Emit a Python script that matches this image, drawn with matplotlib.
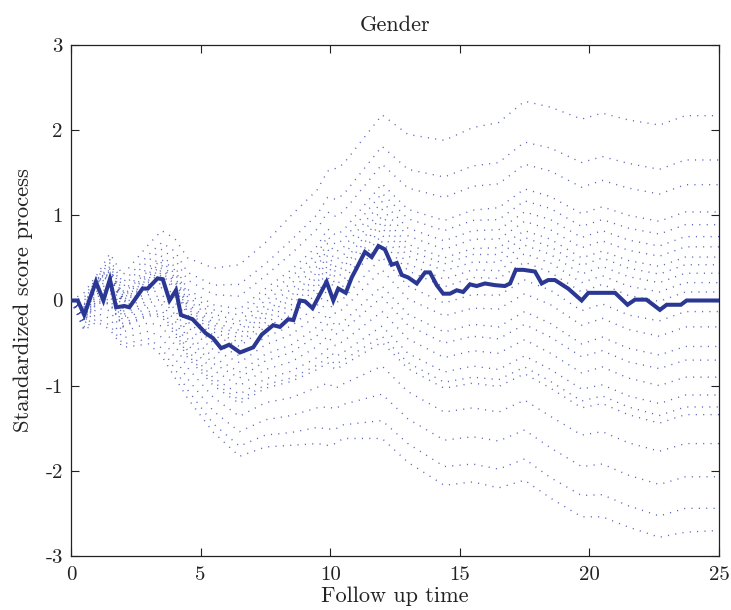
import matplotlib
matplotlib.use("Agg")
import matplotlib.pyplot as plt

# ---- main observed score process ----
main_t = [0, 0.26, 0.51, 0.96, 1.25, 1.5, 1.74, 2.06, 2.25, 2.76, 2.96, 3.34, 3.54, 3.8, 4.05,
          4.24, 4.69, 5.2, 5.47, 5.79, 6.1, 6.52, 7.03, 7.36, 7.8, 8.06, 8.38, 8.58, 8.83,
          9.03, 9.32, 9.86, 10.12, 10.31, 10.6, 10.83, 11.02, 11.34, 11.6, 11.86, 12.11,
          12.37, 12.57, 12.76, 13.01, 13.34, 13.66, 13.85, 14.11, 14.36, 14.62, 14.88,
          15.13, 15.39, 15.65, 15.97, 16.36, 16.74, 16.94, 17.16, 17.45, 17.9, 18.16,
          18.41, 18.67, 19.18, 19.7, 19.96, 20.99, 21.47, 21.76, 22.2, 22.72, 22.98,
          23.53, 23.75, 25.0]
main_v = [0, 0, -0.17, 0.22, 0.0, 0.25, -0.08, -0.065, -0.08, 0.14, 0.14, 0.26, 0.25, 0.0, 0.12,
          -0.17, -0.22, -0.385, -0.44, -0.56, -0.52, -0.61, -0.55, -0.40, -0.29, -0.31, -0.22,
          -0.23, 0.0, -0.01, -0.09, 0.22, 0.0, 0.14, 0.09, 0.27, 0.38, 0.57, 0.51, 0.64, 0.60,
          0.42, 0.44, 0.30, 0.27, 0.20, 0.33, 0.33, 0.18, 0.08, 0.08, 0.12, 0.10, 0.19, 0.17,
          0.20, 0.18, 0.17, 0.20, 0.36, 0.36, 0.34, 0.20, 0.24, 0.24, 0.14, 0.0, 0.09, 0.09,
          -0.05, 0.01, 0.01, -0.11, -0.05, -0.05, 0.0, 0.0]

# ---- simulated processes (dotted) ----
sim_t = [0, 0.5, 1, 1.5, 2, 3, 3.5, 4, 4.5, 5.5, 6.5, 7.5, 8.5, 9.5, 9.9, 10.2, 10.5, 12,
         13, 14.4, 15.5, 16.5, 17.5, 18.5, 19.7, 20.5, 21.5, 22.7, 23.7, 25]
sim_paths = [
    [0, 0.09, 0.30, 0.55, 0.30, 0.66, 0.82, 0.73, 0.50, 0.38, 0.42, 0.68, 1.00, 1.30, 1.52, 1.55, 1.60, 2.18, 1.95, 1.88, 2.03, 2.09, 2.34, 2.27, 2.13, 2.20, 2.12, 2.06, 2.17, 2.17],
    [0, 0.03, 0.28, 0.48, 0.21, 0.54, 0.68, 0.58, 0.33, 0.18, 0.19, 0.43, 0.71, 1.01, 1.21, 1.19, 1.24, 1.81, 1.54, 1.45, 1.58, 1.62, 1.86, 1.79, 1.62, 1.69, 1.61, 1.54, 1.65, 1.65],
    [0, -0.01, 0.27, 0.44, 0.16, 0.47, 0.60, 0.49, 0.24, 0.07, 0.05, 0.29, 0.55, 0.84, 1.04, 0.99, 1.04, 1.60, 1.32, 1.21, 1.34, 1.37, 1.60, 1.52, 1.33, 1.41, 1.32, 1.25, 1.36, 1.36],
    [0, -0.05, 0.25, 0.40, 0.11, 0.39, 0.52, 0.40, 0.13, -0.05, -0.10, 0.14, 0.36, 0.64, 0.84, 0.77, 0.82, 1.37, 1.07, 0.94, 1.06, 1.09, 1.31, 1.22, 1.02, 1.10, 1.00, 0.93, 1.04, 1.04],
    [0, -0.06, 0.24, 0.37, 0.08, 0.35, 0.48, 0.36, 0.08, -0.11, -0.17, 0.07, 0.28, 0.55, 0.75, 0.66, 0.71, 1.26, 0.96, 0.82, 0.94, 0.95, 1.17, 1.08, 0.87, 0.95, 0.85, 0.78, 0.89, 0.89],
    [0, -0.08, 0.24, 0.36, 0.06, 0.32, 0.45, 0.32, 0.04, -0.16, -0.24, 0.00, 0.20, 0.47, 0.67, 0.57, 0.62, 1.16, 0.85, 0.70, 0.82, 0.83, 1.04, 0.95, 0.74, 0.82, 0.71, 0.64, 0.75, 0.75],
    [0, -0.09, 0.23, 0.34, 0.04, 0.29, 0.41, 0.28, 0.00, -0.21, -0.29, -0.06, 0.13, 0.40, 0.60, 0.48, 0.53, 1.07, 0.76, 0.60, 0.72, 0.72, 0.93, 0.83, 0.62, 0.70, 0.59, 0.52, 0.63, 0.63],
    [0, -0.11, 0.23, 0.32, 0.02, 0.26, 0.38, 0.25, -0.04, -0.26, -0.35, -0.12, 0.06, 0.33, 0.53, 0.40, 0.45, 0.99, 0.66, 0.50, 0.61, 0.62, 0.82, 0.72, 0.50, 0.58, 0.47, 0.40, 0.51, 0.51],
    [0, -0.12, 0.22, 0.31, 0.00, 0.24, 0.36, 0.22, -0.07, -0.29, -0.39, -0.16, 0.01, 0.27, 0.47, 0.34, 0.39, 0.92, 0.59, 0.43, 0.54, 0.54, 0.74, 0.63, 0.41, 0.50, 0.38, 0.31, 0.42, 0.42],
    [0, -0.13, 0.22, 0.29, -0.02, 0.22, 0.33, 0.19, -0.10, -0.33, -0.44, -0.21, -0.05, 0.21, 0.41, 0.27, 0.32, 0.85, 0.52, 0.35, 0.45, 0.45, 0.65, 0.54, 0.31, 0.40, 0.28, 0.21, 0.32, 0.32],
    [0, -0.14, 0.21, 0.28, -0.03, 0.19, 0.30, 0.16, -0.13, -0.37, -0.49, -0.26, -0.11, 0.15, 0.35, 0.19, 0.24, 0.77, 0.43, 0.25, 0.36, 0.35, 0.55, 0.44, 0.21, 0.29, 0.17, 0.10, 0.21, 0.21],
    [0, -0.16, 0.21, 0.26, -0.05, 0.16, 0.28, 0.13, -0.17, -0.41, -0.54, -0.31, -0.17, 0.08, 0.28, 0.12, 0.17, 0.69, 0.35, 0.16, 0.27, 0.26, 0.45, 0.33, 0.10, 0.19, 0.06, -0.01, 0.10, 0.10],
    [0, -0.18, 0.18, 0.22, -0.09, 0.11, 0.21, 0.05, -0.25, -0.50, -0.65, -0.43, -0.30, -0.06, 0.13, -0.03, 0.02, 0.51, 0.17, -0.03, 0.07, 0.06, 0.24, 0.12, -0.12, -0.04, -0.17, -0.24, -0.13, -0.13],
    [0, -0.19, 0.15, 0.18, -0.13, 0.07, 0.15, -0.01, -0.31, -0.58, -0.73, -0.52, -0.40, -0.17, 0.00, -0.15, -0.10, 0.36, 0.02, -0.18, -0.09, -0.10, 0.08, -0.05, -0.29, -0.21, -0.34, -0.42, -0.31, -0.31],
    [0, -0.21, 0.11, 0.13, -0.17, 0.01, 0.07, -0.10, -0.39, -0.67, -0.84, -0.63, -0.52, -0.31, -0.16, -0.30, -0.25, 0.17, -0.16, -0.37, -0.28, -0.31, -0.13, -0.27, -0.51, -0.43, -0.56, -0.64, -0.54, -0.54],
    [0, -0.22, 0.08, 0.10, -0.20, -0.03, 0.02, -0.16, -0.45, -0.74, -0.91, -0.71, -0.61, -0.41, -0.28, -0.40, -0.35, 0.04, -0.29, -0.50, -0.42, -0.45, -0.28, -0.43, -0.66, -0.59, -0.72, -0.80, -0.70, -0.70],
    [0, -0.23, 0.05, 0.05, -0.23, -0.08, -0.05, -0.23, -0.52, -0.82, -1.00, -0.81, -0.72, -0.54, -0.42, -0.53, -0.48, -0.13, -0.45, -0.67, -0.59, -0.62, -0.46, -0.62, -0.85, -0.78, -0.91, -1.00, -0.90, -0.90],
    [0, -0.24, 0.01, 0.01, -0.27, -0.13, -0.12, -0.31, -0.59, -0.91, -1.10, -0.92, -0.83, -0.67, -0.57, -0.66, -0.61, -0.30, -0.62, -0.84, -0.77, -0.81, -0.65, -0.81, -1.04, -0.99, -1.12, -1.21, -1.11, -1.11],
    [0, -0.25, -0.01, -0.03, -0.30, -0.16, -0.16, -0.36, -0.64, -0.96, -1.17, -0.99, -0.91, -0.76, -0.67, -0.75, -0.70, -0.42, -0.73, -0.96, -0.90, -0.93, -0.78, -0.95, -1.18, -1.12, -1.25, -1.35, -1.25, -1.25],
    [0, -0.26, -0.03, -0.04, -0.31, -0.18, -0.19, -0.40, -0.67, -1.00, -1.21, -1.03, -0.95, -0.81, -0.73, -0.81, -0.76, -0.49, -0.80, -1.03, -0.97, -1.01, -0.86, -1.03, -1.26, -1.21, -1.34, -1.44, -1.34, -1.34],
    [0, -0.28, -0.09, -0.12, -0.37, -0.26, -0.30, -0.52, -0.79, -1.14, -1.36, -1.20, -1.14, -1.02, -0.97, -1.03, -0.98, -0.77, -1.07, -1.31, -1.26, -1.31, -1.17, -1.36, -1.58, -1.54, -1.67, -1.77, -1.68, -1.68],
    [0, -0.31, -0.15, -0.21, -0.44, -0.36, -0.43, -0.67, -0.92, -1.30, -1.54, -1.40, -1.35, -1.26, -1.25, -1.27, -1.22, -1.10, -1.39, -1.64, -1.60, -1.65, -1.52, -1.73, -1.95, -1.92, -2.05, -2.16, -2.07, -2.07],
    [0, -0.33, -0.21, -0.29, -0.51, -0.45, -0.56, -0.80, -1.05, -1.45, -1.71, -1.58, -1.55, -1.49, -1.51, -1.51, -1.46, -1.41, -1.68, -1.95, -1.92, -1.98, -1.86, -2.08, -2.29, -2.28, -2.41, -2.53, -2.44, -2.44],
    [0, -0.35, -0.25, -0.34, -0.55, -0.51, -0.65, -0.90, -1.15, -1.55, -1.83, -1.72, -1.70, -1.68, -1.70, -1.68, -1.62, -1.62, -1.90, -2.17, -2.13, -2.20, -2.11, -2.32, -2.54, -2.54, -2.66, -2.78, -2.72, -2.70],
]

x_ticks = [0, 5, 10, 15, 20, 25]
y_ticks = [-3, -2, -1, 0, 1, 2, 3]
title = "Gender"
x_label = "Follow up time"
y_label = "Standardized score process"

plt.rcParams['font.family'] = ['cmr10', 'DejaVu Serif']
plt.rcParams['axes.unicode_minus'] = False
plt.rcParams['axes.formatter.use_mathtext'] = False

fig = plt.figure(figsize=(7.31, 6.10), dpi=100)
ax = fig.add_axes([71/731, 1-556/610, 648/731, 511/610])

for p in sim_paths:
    ax.plot(sim_t, p, color='#3444aa', alpha=0.8, lw=1.0, dashes=(0.8, 4.5),
            dash_capstyle='butt', zorder=2)

ax.plot(main_t, main_v, color='#2a3793', lw=2.9, solid_joinstyle='miter', zorder=3)

ax.set_xlim(0, 25)
ax.set_ylim(-3, 3)
ax.set_xticks(x_ticks)
ax.set_yticks(y_ticks)
ax.set_xticklabels([str(v) for v in x_ticks])
ax.set_yticklabels([str(v) for v in y_ticks])
ax.tick_params(direction='in', length=6, width=0.8, top=True, right=True,
               labelsize=15, colors='#222222')
ax.tick_params(axis='x', pad=7)
ax.tick_params(axis='y', pad=6)
for s in ax.spines.values():
    s.set_linewidth(0.9)
    s.set_color('#222222')

ax.set_title(title, fontsize=16, pad=10, color='#222222')
ax.set_xlabel(x_label, fontsize=16, labelpad=2, color='#222222')
ax.set_ylabel(y_label, fontsize=16.3, labelpad=9, color='#222222')

fig.savefig('out.png', dpi=100)
